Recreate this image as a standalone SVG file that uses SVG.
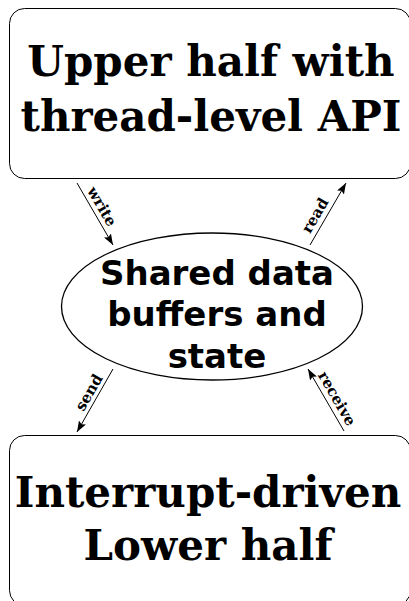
<svg xmlns="http://www.w3.org/2000/svg" width="409" height="601" viewBox="0 0 409 601">
<defs>
<style>
.box{fill:#fff;stroke:#000;stroke-width:1}
.big{font-family:"DejaVu Serif",serif;font-weight:bold;font-size:42px;text-anchor:middle;fill:#000}
.mid{font-family:"DejaVu Sans",sans-serif;font-weight:bold;font-size:34px;text-anchor:middle;fill:#000}
.lbl{font-family:"DejaVu Serif",serif;font-weight:bold;font-size:15px;text-anchor:middle;fill:#000}
.con{stroke:#000;stroke-width:1;fill:none;marker-end:url(#ah)}
</style>
<marker id="ah" viewBox="0 0 11 8" refX="11" refY="4" markerWidth="11" markerHeight="8" markerUnits="userSpaceOnUse" orient="auto">
<path d="M0,0 L11,4 L0,8 L2,4 Z" fill="#000"/>
</marker>
</defs>
<rect width="409" height="601" fill="#fff"/>
<g id="upper">
<rect class="box" x="9.5" y="8.5" width="401" height="170" rx="15"/>
<text class="big" x="211" y="76">Upper half with</text>
<text class="big" x="211" y="131">thread-level API</text>
</g>
<g id="shared">
<ellipse cx="212" cy="306.5" rx="150.5" ry="73.5" fill="#fff" stroke="#000" stroke-width="1.3"/>
<text class="mid" x="217" y="285">Shared data</text>
<text class="mid" x="217" y="326">buffers and</text>
<text class="mid" x="217" y="368">state</text>
</g>
<g id="lower">
<rect class="box" x="9.5" y="435.5" width="401" height="170" rx="15"/>
<text class="big" x="208" y="507">Interrupt-driven</text>
<text class="big" x="208" y="560">Lower half</text>
</g>
<g id="connectors">
<line class="con" x1="77" y1="183" x2="113" y2="245"/>
<line class="con" x1="310" y1="245" x2="346" y2="183"/>
<line class="con" x1="113" y1="369" x2="77" y2="432"/>
<line class="con" x1="344" y1="431" x2="308" y2="369"/>
<text class="lbl" transform="translate(101,207) rotate(60)" dy="4">write</text>
<text class="lbl" transform="translate(316,216) rotate(-60)" dy="4">read</text>
<text class="lbl" transform="translate(90,393) rotate(-60)" dy="4">send</text>
<text class="lbl" transform="translate(336,399) rotate(60)" dy="4">receive</text>
</g>
</svg>
